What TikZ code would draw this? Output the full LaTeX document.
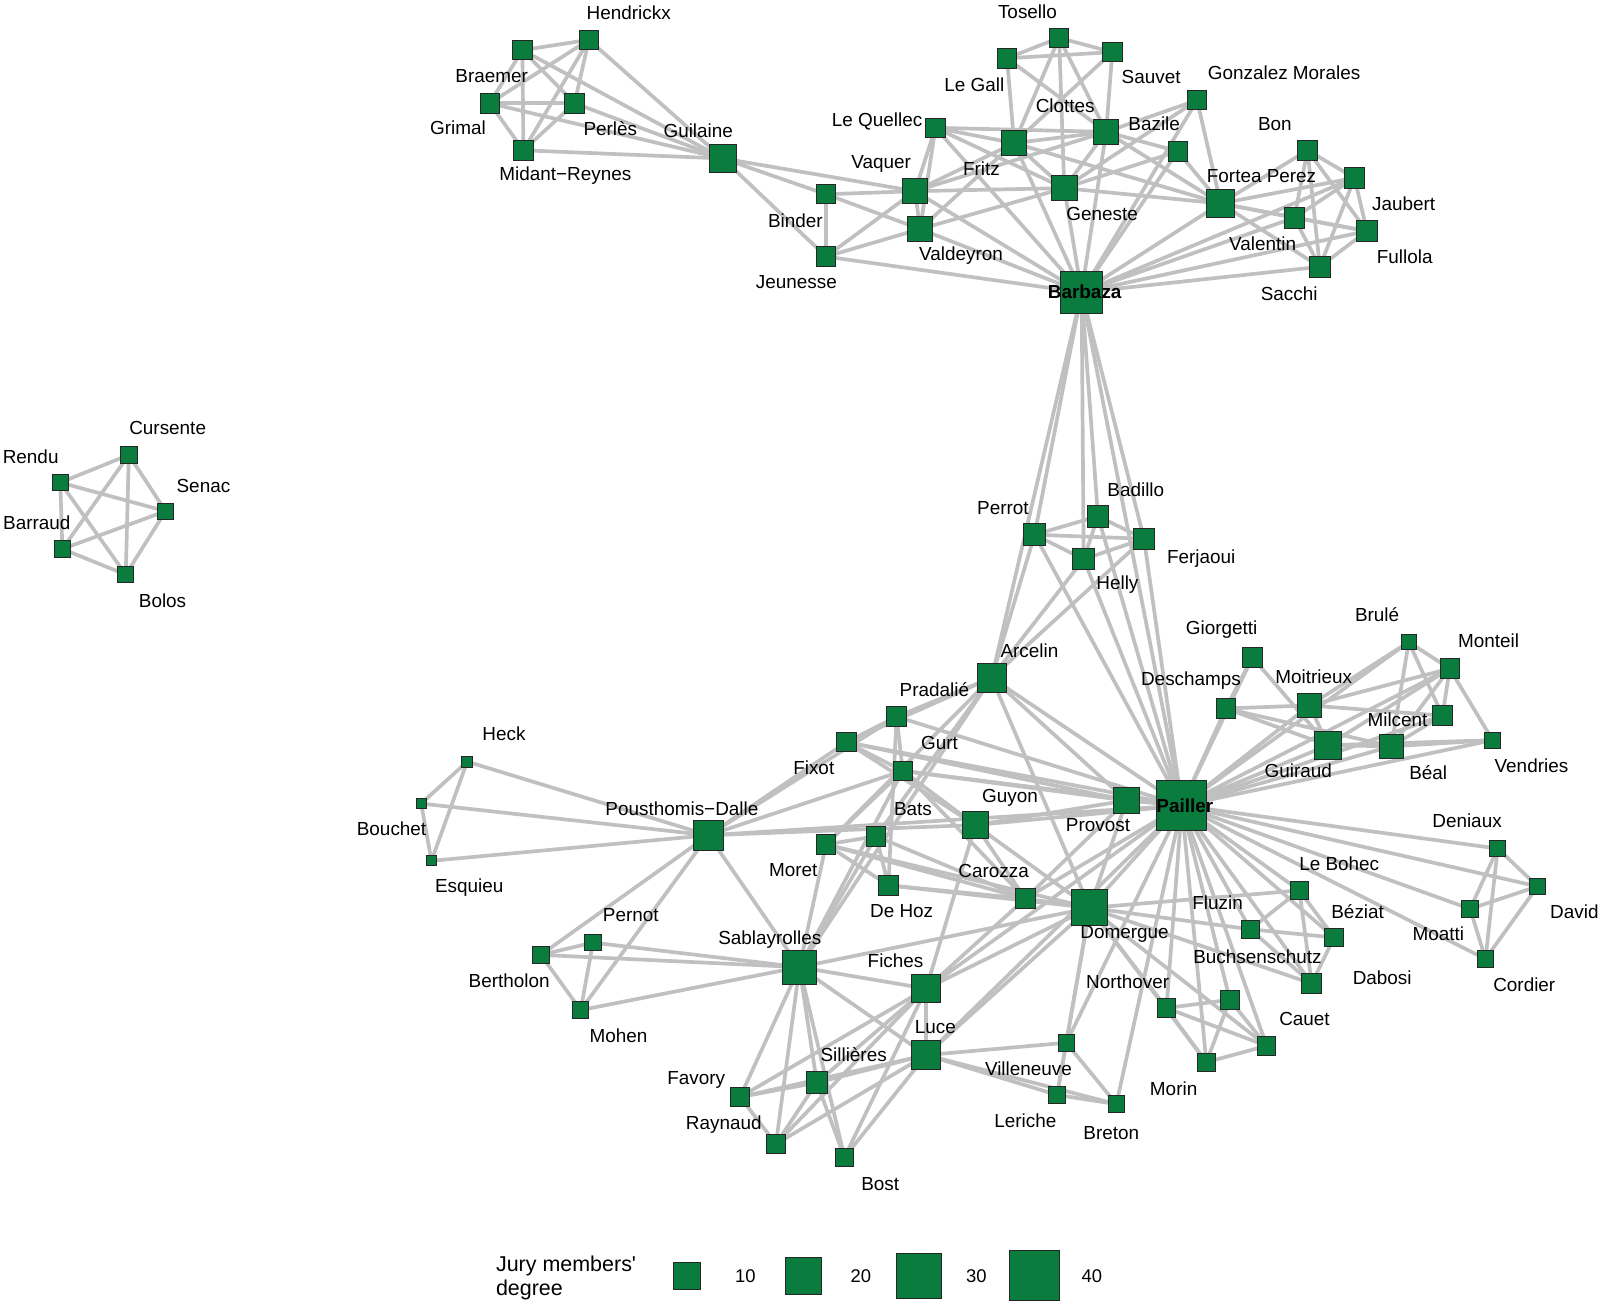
\documentclass[tikz,border=0pt]{standalone}
\usepackage{fontspec}
\newfontfamily\lfont{Liberation Sans}
\usetikzlibrary{backgrounds}
\definecolor{ngreen}{RGB}{10,124,62}
\definecolor{egray}{RGB}{192,192,192}
\begin{document}
\begin{tikzpicture}[x=1pt,y=-1pt,
  nd/.style={rectangle,draw=black!85,line width=0.9pt,fill=ngreen,inner sep=0pt,minimum size=#1pt},
  lbl/.style={inner sep=0pt,font=\lfont\fontsize{18.5}{20}\selectfont},
  lblb/.style={inner sep=0pt,font=\lfont\bfseries\fontsize{18.5}{20}\selectfont},
  numl/.style={inner sep=0pt,font=\lfont\fontsize{18}{20}\selectfont},
  edge/.style={draw=egray,line width=3.6pt}]
\useasboundingbox (0,0) rectangle (1568,1277.4);
% ---------- nodes ----------
% isolated group
\node[nd=16] (cur) at (126,445) {};
\node[nd=16] (ren) at (59,472) {};
\node[nd=16] (sen) at (162,500) {};
\node[nd=16] (barr) at (61,537) {};
\node[nd=16] (bol) at (123,562) {};
% top-left group
\node[nd=19] (hen) at (576,39) {};
\node[nd=19] (bra) at (511,49) {};
\node[nd=19] (gri) at (479,101) {};
\node[nd=19] (perl) at (562,101) {};
\node[nd=19] (mid) at (512,147) {};
\node[nd=27] (gui) at (707,155) {};
% Barbaza group
\node[nd=19] (bin) at (808,190) {};
\node[nd=19] (jeu) at (808,251) {};
\node[nd=25] (vaq) at (895,187) {};
\node[nd=25] (vald) at (900,224) {};
\node[nd=19] (lqu) at (915,125) {};
\node[nd=25] (fri) at (992,140) {};
\node[nd=19] (lga) at (985,57) {};
\node[nd=19] (tos) at (1036,37) {};
\node[nd=19] (sau) at (1088,51) {};
\node[nd=25] (clo) at (1082,129) {};
\node[nd=19] (baz) at (1152,148) {};
\node[nd=19] (gon) at (1171,98) {};
\node[nd=25] (gen) at (1041,184) {};
\node[nd=27] (fort) at (1194,199) {};
\node[nd=20] (bon) at (1279,147) {};
\node[nd=20] (jau) at (1325,174) {};
\node[nd=20] (val) at (1266,213) {};
\node[nd=20] (ful) at (1337,226) {};
\node[nd=20] (sac) at (1291,261) {};
\node[nd=41] (bar) at (1058,286) {};
% middle
\node[nd=21] (perr) at (1012,523) {};
\node[nd=21] (bad) at (1074,505) {};
\node[nd=21] (fer) at (1119,527) {};
\node[nd=21] (hel) at (1060,547) {};
\node[nd=28] (arc) at (970,663) {};
% right group
\node[nd=19] (gio) at (1225,643) {};
\node[nd=19] (des) at (1199,693) {};
\node[nd=24] (moi) at (1281,690) {};
\node[nd=15] (bru) at (1378,628) {};
\node[nd=19] (mon) at (1418,654) {};
\node[nd=19] (mil) at (1411,700) {};
\node[nd=27] (guir) at (1299,729) {};
\node[nd=23] (bea) at (1361,730) {};
\node[nd=16] (ven) at (1460,724) {};
\node[nd=26] (pro) at (1102,783) {};
\node[nd=49] (pai) at (1156,788) {};
% lower right
\node[nd=16] (den) at (1465,830) {};
\node[nd=15] (dav) at (1504,867) {};
\node[nd=16] (moa) at (1438,889) {};
\node[nd=16] (cor) at (1453,938) {};
\node[nd=18] (leb) at (1271,871) {};
\node[nd=18] (flu) at (1223,909) {};
\node[nd=18] (bez) at (1305,917) {};
\node[nd=19] (dab) at (1283,962) {};
\node[nd=18] (nor) at (1141,986) {};
\node[nd=18] (ntwo) at (1203,978) {};
\node[nd=18] (cau) at (1239,1023) {};
\node[nd=18] (mori) at (1180,1039) {};
\node[nd=16] (vil) at (1043,1020) {};
\node[nd=16] (ler) at (1034,1071) {};
\node[nd=16] (bre) at (1092,1080) {};
\node[nd=35] (dom) at (1066,888) {};
\node[nd=19] (car) at (1003,879) {};
% left group
\node[nd=10.5] (hec) at (457,745) {};
\node[nd=10] (bou) at (412,786) {};
\node[nd=10] (esq) at (422,842) {};
\node[nd=29] (pd) at (693,817) {};
\node[nd=19] (fix) at (828,726) {};
\node[nd=19] (pra) at (877,701) {};
\node[nd=19] (gur) at (883,754) {};
\node[nd=19] (bat) at (857,818) {};
\node[nd=19] (mort) at (808,826) {};
\node[nd=19] (deh) at (869,866) {};
\node[nd=26] (guy) at (954,807) {};
\node[nd=16] (pern) at (580,922) {};
\node[nd=16] (bert) at (529,934) {};
\node[nd=16] (moh) at (568,988) {};
\node[nd=33] (sab) at (782,946) {};
\node[nd=28] (fic) at (906,967) {};
\node[nd=28] (luc) at (906,1032) {};
\node[nd=21] (sil) at (799,1059) {};
\node[nd=19] (fav) at (724,1073) {};
\node[nd=19] (ray) at (759,1119) {};
\node[nd=17] (bos) at (826,1132) {};
% ---------- edges ----------
\begin{scope}[on background layer]
\fill[white] (0,0) rectangle (1568,1277.4);
\foreach \a/\b in {ren/cur,ren/sen,ren/barr,ren/bol,cur/sen,cur/barr,cur/bol,sen/barr,sen/bol,barr/bol,
  hen/bra,hen/gri,hen/perl,hen/mid,hen/gui,bra/gri,bra/perl,bra/mid,bra/gui,gri/perl,gri/mid,gri/gui,perl/mid,perl/gui,mid/gui,
  gui/vaq,gui/bin,gui/jeu,bin/vald,bin/vaq,bin/jeu,jeu/vaq,jeu/vald,jeu/bar,
  vaq/vald,vaq/lqu,vaq/fri,vaq/gen,vaq/clo,vaq/bar,vald/lqu,vald/fri,vald/gen,vald/bar,
  lqu/fri,lqu/clo,lqu/gen,lqu/bar,lga/tos,lga/sau,lga/fri,lga/clo,tos/sau,tos/fri,tos/gen,tos/clo,sau/clo,sau/fri,
  fri/clo,fri/gen,fri/bar,fri/fort,clo/gen,clo/bar,clo/baz,clo/fort,clo/gon,baz/gen,baz/bar,baz/fort,
  gon/gen,gon/bar,gon/fort,gen/bar,gen/fort,
  fort/bar,fort/bon,fort/jau,fort/val,fort/ful,fort/sac,bon/jau,bon/val,bon/ful,bon/sac,jau/val,jau/ful,jau/sac,
  val/ful,val/sac,ful/sac,bar/val,bar/jau,bar/ful,bar/sac}
  \draw[edge] (\a.center) -- (\b.center);
\foreach \a/\b in {bar/perr,bar/bad,bar/hel,bar/fer,bar/arc,bar/pai,perr/bad,perr/fer,perr/hel,bad/fer,bad/hel,hel/fer,
  perr/arc,hel/arc,fer/arc,perr/pai,hel/pai,bad/pai,fer/pai,
  arc/pai,arc/pro,arc/dom,arc/fix,arc/bat,arc/mort,arc/sab,arc/pra,
  pai/des,pai/gio,pai/moi,pai/guir,pai/bea,pai/mil,pai/mon,pai/bru,pai/ven,
  des/gio,des/moi,des/guir,des/bea,gio/guir,moi/guir,moi/bru,moi/mon,moi/mil,bru/mon,bru/bea,bru/mil,
  mon/mil,mon/bea,mon/ven,mon/guir,mil/bea,bea/guir,bea/ven,ven/guir}
  \draw[edge] (\a.center) -- (\b.center);
\foreach \a/\b in {pai/den,pai/dav,pai/moa,pai/cor,den/dav,den/moa,den/cor,dav/moa,dav/cor,moa/cor,
  pai/leb,pai/flu,pai/bez,pai/dab,pai/nor,pai/ntwo,pai/cau,pai/mori,pai/bre,pai/dom,pai/car,pai/pro,
  pai/guy,pai/pd,pai/gur,pai/fix,pai/pra,pai/luc,pai/fic,pai/vil,
  leb/dom,leb/flu,leb/bez,leb/dab,flu/bez,flu/dab,flu/dom,bez/dab,dab/dom,
  nor/ntwo,nor/cau,nor/mori,nor/dom,ntwo/cau,ntwo/mori,cau/mori,cau/dom,mori/dom,
  vil/ler,vil/bre,vil/luc,vil/dom,ler/bre,ler/luc,ler/dom,bre/luc}
  \draw[edge] (\a.center) -- (\b.center);
\foreach \a/\b in {dom/pro,dom/car,dom/guy,dom/mort,dom/deh,dom/sab,dom/fic,dom/luc,
  pro/guy,pro/car,pro/fix,pro/gur,car/guy,car/fic,car/gur,car/bat,car/mort,car/deh,
  guy/pd,guy/gur,guy/fix,guy/fic,
  pd/hec,pd/bou,pd/esq,hec/bou,hec/esq,bou/esq,pd/fix,pd/pra,pd/gur,pd/sab,pd/bert,pd/moh,
  pern/bert,pern/moh,pern/sab,bert/moh,bert/sab,moh/sab,
  fix/pra,fix/gur,pra/gur,pra/deh,gur/sab,gur/mort,
  bat/mort,bat/deh,bat/sab,mort/deh,mort/sab,
  sab/fic,sab/luc,sab/sil,sab/fav,sab/ray,sab/bos,
  fic/luc,fic/sil,fic/fav,fic/ray,fic/bos,luc/sil,luc/fav,luc/ray,luc/bos,
  sil/fav,sil/ray,sil/bos,fav/ray}
  \draw[edge] (\a.center) -- (\b.center);
\end{scope}
% ---------- labels ----------
\node[lbl] (t-cur) at (164,419) {Cursente};
\node[lbl] (t-ren) at (30,447) {Rendu};
\node[lbl] (t-sen) at (199,475) {Senac};
\node[lbl] (t-barr) at (36,511) {Barraud};
\node[lbl] (t-bol) at (159,588) {Bolos};
\node[lbl] (t-hen) at (615,12) {Hendrickx};
\node[lbl] (t-bra) at (481,74) {Braemer};
\node[lbl] (t-gri) at (448,125) {Grimal};
\node[lbl] (t-perl) at (597,126) {Perlès};
\node[lbl] (t-mid) at (553,172) {Midant−Reynes};
\node[lbl] (t-gui) at (683,128) {Guilaine};
\node[lbl] (t-lqu) at (858,119) {Le Quellec};
\node[lbl] (t-vaq) at (862,160) {Vaquer};
\node[lbl] (t-bin) at (778,216) {Binder};
\node[lbl] (t-jeu) at (779,276) {Jeunesse};
\node[lbl] (t-vald) at (940,250) {Valdeyron};
\node[lbl] (t-fri) at (960,165) {Fritz};
\node[lbl] (t-lga) at (953,83) {Le Gall};
\node[lbl] (t-tos) at (1005,11) {Tosello};
\node[lbl] (t-sau) at (1126,75) {Sauvet};
\node[lbl] (t-clo) at (1042,103) {Clottes};
\node[lbl] (t-baz) at (1129,121) {Bazile};
\node[lbl] (t-gon) at (1256,71) {Gonzalez Morales};
\node[lbl] (t-gen) at (1078,209) {Geneste};
\node[lbl] (t-fort) at (1234,172) {Fortea Perez};
\node[lbl] (t-bon) at (1247,121) {Bon};
\node[lbl] (t-jau) at (1373,199) {Jaubert};
\node[lbl] (t-val) at (1235,238) {Valentin};
\node[lbl] (t-ful) at (1374,251) {Fullola};
\node[lbl] (t-sac) at (1261,287) {Sacchi};
\node[lblb] (t-bar) at (1061,285) {Barbaza};
\node[lbl] (t-perr) at (981,497) {Perrot};
\node[lbl] (t-bad) at (1111,479) {Badillo};
\node[lbl] (t-fer) at (1175,546) {Ferjaoui};
\node[lbl] (t-hel) at (1093,572) {Helly};
\node[lbl] (t-arc) at (1007,637) {Arcelin};
\node[lbl] (t-gio) at (1195,616) {Giorgetti};
\node[lbl] (t-des) at (1165,666) {Deschamps};
\node[lbl] (t-moi) at (1285,662) {Moitrieux};
\node[lbl] (t-bru) at (1347,601) {Brulé};
\node[lbl] (t-mon) at (1456,627) {Monteil};
\node[lbl] (t-mil) at (1367,704) {Milcent};
\node[lbl] (t-guir) at (1270,754) {Guiraud};
\node[lbl] (t-bea) at (1397,756) {Béal};
\node[lbl] (t-ven) at (1498,749) {Vendries};
\node[lblb] (t-pai) at (1159,788) {Pailler};
\node[lbl] (t-pro) at (1074,807) {Provost};
\node[lbl] (t-den) at (1435,803) {Deniaux};
\node[lbl] (t-dav) at (1540,892) {David};
\node[lbl] (t-moa) at (1407,913) {Moatti};
\node[lbl] (t-cor) at (1491,963) {Cordier};
\node[lbl] (t-leb) at (1310,845) {Le Bohec};
\node[lbl] (t-flu) at (1191,883) {Fluzin};
\node[lbl] (t-bez) at (1328,892) {Béziat};
\node[lbl] (t-buc) at (1230,936) {Buchsenschutz};
\node[lbl] (t-dab) at (1352,956) {Dabosi};
\node[lbl] (t-nor) at (1103,960) {Northover};
\node[lbl] (t-cau) at (1276,997) {Cauet};
\node[lbl] (t-mori) at (1148,1065) {Morin};
\node[lbl] (t-vil) at (1006,1045) {Villeneuve};
\node[lbl] (t-ler) at (1003,1096) {Leriche};
\node[lbl] (t-bre) at (1087,1108) {Breton};
\node[lbl] (t-dom) at (1100,914) {Domergue};
\node[lbl] (t-car) at (972,852) {Carozza};
\node[lbl] (t-hec) at (493,718) {Heck};
\node[lbl] (t-bou) at (383,811) {Bouchet};
\node[lbl] (t-esq) at (459,868) {Esquieu};
\node[lbl] (t-pd) at (667,791) {Pousthomis−Dalle};
\node[lbl] (t-fix) at (796,751) {Fixot};
\node[lbl] (t-pra) at (914,675) {Pradalié};
\node[lbl] (t-gur) at (919,727) {Gurt};
\node[lbl] (t-bat) at (893,791) {Bats};
\node[lbl] (t-mort) at (776,851) {Moret};
\node[lbl] (t-deh) at (882,891) {De Hoz};
\node[lbl] (t-guy) at (988,780) {Guyon};
\node[lbl] (t-pern) at (617,895) {Pernot};
\node[lbl] (t-bert) at (498,959) {Bertholon};
\node[lbl] (t-moh) at (605,1013) {Mohen};
\node[lbl] (t-sab) at (753,919) {Sablayrolles};
\node[lbl] (t-fic) at (876,940) {Fiches};
\node[lbl] (t-luc) at (915,1005) {Luce};
\node[lbl] (t-sil) at (835,1032) {Sillières};
\node[lbl] (t-fav) at (681,1056) {Favory};
\node[lbl] (t-ray) at (708,1100) {Raynaud};
\node[lbl] (t-bos) at (861,1158) {Bost};
% ---------- legend ----------
\node[anchor=west,align=left,inner sep=0pt,font=\lfont\fontsize{21}{23}\selectfont] (legt) at (485,1250) {Jury members'\\degree};
\node[nd=27] (lg1) at (672,1248) {};
\node[nd=36] (lg2) at (786,1248) {};
\node[nd=44] (lg3) at (899,1248) {};
\node[nd=49] (lg4) at (1012,1248) {};
\node[numl] (n1) at (729,1248) {10};
\node[numl] (n2) at (842,1248) {20};
\node[numl] (n3) at (955,1248) {30};
\node[numl] (n4) at (1068,1248) {40};
\end{tikzpicture}
\end{document}
